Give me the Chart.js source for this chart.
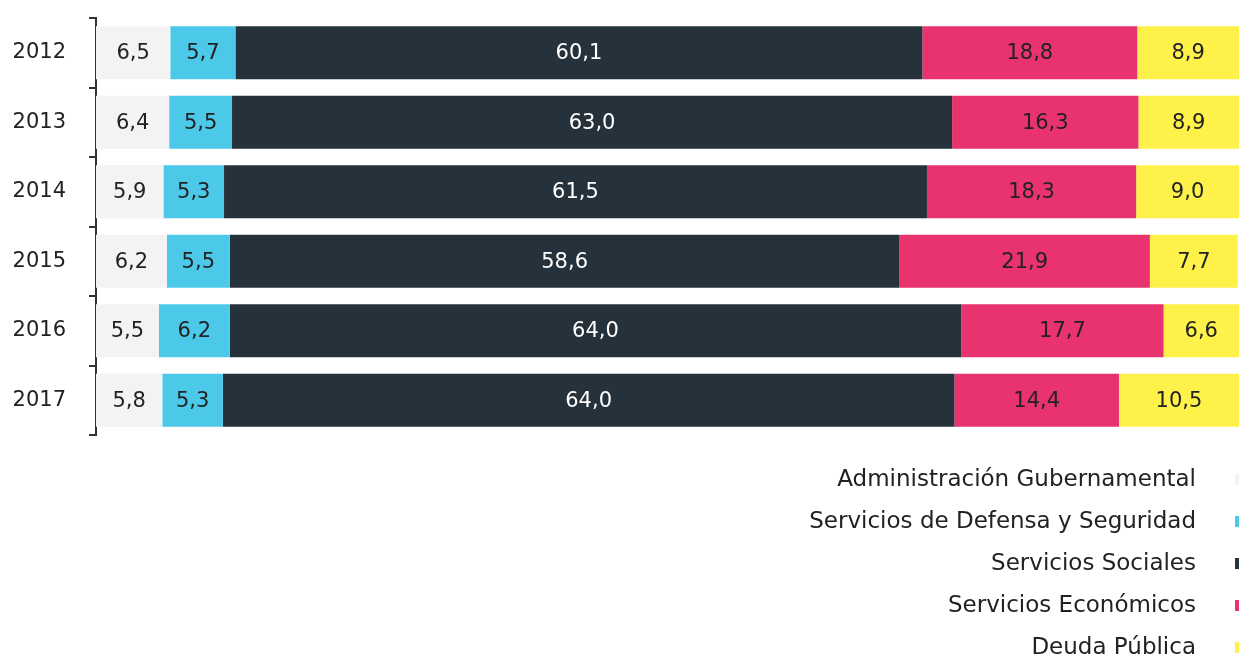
<!DOCTYPE html>
<html><head><meta charset="utf-8">
<script src="https://cdn.jsdelivr.net/npm/chart.js@4.4.0/dist/chart.umd.min.js"></script>
<style>html,body{margin:0;padding:0;background:#fff;}#wrap{width:1239px;height:655px;position:relative;}</style>
</head><body><div id="wrap"><canvas id="c" width="1239" height="655"></canvas></div>
<script>
const years = ['2012','2013','2014','2015','2016','2017'];
const seriesNames = ['Administración Gubernamental','Servicios de Defensa y Seguridad','Servicios Sociales','Servicios Económicos','Deuda Pública'];
const administracion = [6.5, 6.4, 5.9, 6.2, 5.5, 5.8];
const defensa = [5.7, 5.5, 5.3, 5.5, 6.2, 5.3];
const sociales = [60.1, 63.0, 61.5, 58.6, 64.0, 64.0];
const economicos = [18.8, 16.3, 18.3, 21.9, 17.7, 14.4];
const deuda = [8.9, 8.9, 9.0, 7.7, 6.6, 10.5];
const colors = ['#f3f3f3','#4cc8e9','#25323b','#e8336f','#fef24a'];
const labelColors = ['#222','#222','#fff','#222','#222'];
const FONT = '"DejaVu Sans", sans-serif';

const allSeries = [administracion, defensa, sociales, economicos, deuda];
const datasets = allSeries.map((d,i)=>({label: seriesNames[i], data: d, backgroundColor: colors[i], borderWidth:0, barPercentage:0.765, categoryPercentage:1}));

const valueLabels = {
  id:'valueLabels',
  afterDatasetsDraw(chart){
    const ctx = chart.ctx;
    ctx.save();
    ctx.font = '21px ' + FONT;
    ctx.textAlign='center'; ctx.textBaseline='middle';
    chart.data.datasets.forEach((ds,i)=>{
      const meta = chart.getDatasetMeta(i);
      meta.data.forEach((bar,j)=>{
        const left = Math.min(bar.x, bar.base), right = Math.min(Math.max(bar.x, bar.base), chart.chartArea.right);
        ctx.fillStyle = labelColors[i];
        ctx.fillText(ds.data[j].toFixed(1).replace('.', ','), (left+right)/2, bar.y+1);
      });
    });
    ctx.restore();
  }
};

const bottomLegend = {
  id:'bottomLegend',
  afterDraw(chart){
    const ctx = chart.ctx;
    ctx.save();
    ctx.font = '23px ' + FONT;
    ctx.textAlign='right'; ctx.textBaseline='middle';
    seriesNames.forEach((n,i)=>{
      const y = 480 + i*42;
      ctx.fillStyle = '#222';
      ctx.fillText(n, 1196, y);
      ctx.fillStyle = colors[i];
      ctx.fillRect(1235, y-6, 5, 11);
    });
    ctx.restore();
  }
};

new Chart(document.getElementById('c'), {
  type:'bar',
  data:{labels: years, datasets},
  options:{
    indexAxis:'y',
    responsive:false,
    animation:false,
    layout:{padding:{top:18, bottom:220, left:0, right:0}},
    plugins:{legend:{display:false}, tooltip:{enabled:false}},
    scales:{
      x:{stacked:true, display:false, min:0, max:100},
      y:{stacked:true,
         afterFit(scale){ scale.width = 96; scale.paddingTop = 0; scale.paddingBottom = 0; },
         grid:{offset:true, drawOnChartArea:false, drawTicks:true, tickLength:7, color:'#333', lineWidth:2},
         border:{display:true, color:'#333', width:2},
         ticks:{color:'#222', font:{family:FONT, size:21}, padding:23}
      }
    }
  },
  plugins:[valueLabels, bottomLegend]
});
</script></body></html>
